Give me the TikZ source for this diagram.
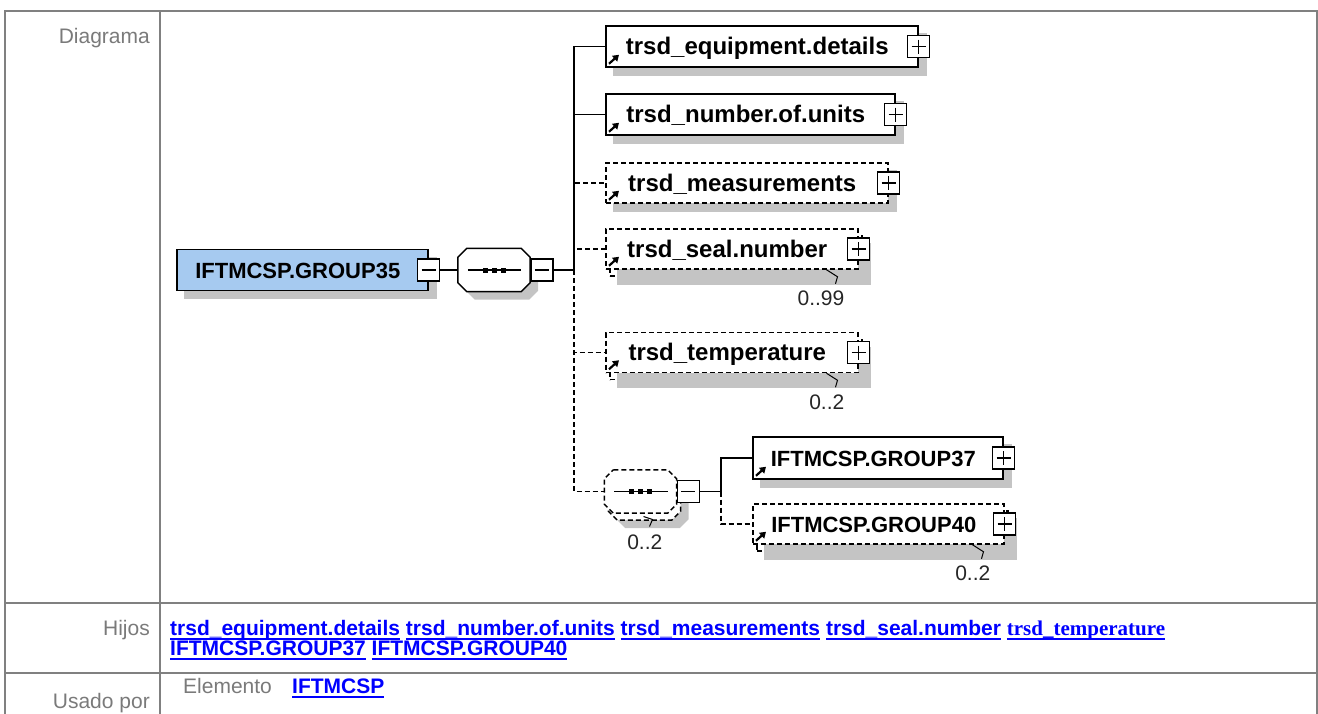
\documentclass[tikz,border=0pt]{standalone}
\usepackage{fontspec}
\setmainfont{Liberation Sans}
\newfontfamily\timesfont{Liberation Serif}
\usetikzlibrary{arrows.meta,backgrounds,positioning}

\definecolor{tablegray}{HTML}{808080}
\definecolor{labelgray}{HTML}{7A7A7A}
\definecolor{linkblue}{HTML}{0000FF}
\definecolor{groupblue}{HTML}{A6CAF0}
\definecolor{shadegray}{HTML}{C4C4C4}

% underlined link text
\newcommand{\hlink}[1]{\setbox0=\hbox{#1}\rlap{\rule[-5pt]{\wd0}{2pt}}\box0\relax}
% octagon round a seqbox node
\newcommand{\octpath}[1]{([xshift=9pt]#1.north west) -- ([xshift=-9pt]#1.north east) -- ([yshift=-9pt]#1.north east) -- ([yshift=9pt]#1.south east) -- ([xshift=-9pt]#1.south east) -- ([xshift=9pt]#1.south west) -- ([yshift=9pt]#1.south west) -- ([yshift=-9pt]#1.north west) -- cycle}
% sequence symbol
\newcommand{\seqmark}[1]{\draw[line width=1.4pt] ([xshift=10pt]#1.west) -- ([xshift=-9pt]#1.east);
  \foreach \dx in {-9,0,9} \fill ([xshift=\dx pt]#1.center) +(-2.5pt,-2.5pt) rectangle +(2.5pt,2.5pt);}
% reference arrow
\newcommand{\refmark}[1]{\draw[refarrow] ([xshift=4pt,yshift=4pt]#1.south west) -- ([xshift=14pt,yshift=13pt]#1.south west);}
% shadow of a box
\newcommand{\boxshade}[1]{\fill[shadegray] ([shift={(8,8)}]#1.north west) rectangle ([shift={(8,8)}]#1.south east);}

\tikzset{
  tabline/.style={draw=tablegray, line width=2pt},
  tablabel/.style={text=labelgray, font=\fontsize{21}{20}\selectfont, inner sep=0pt},
  linktext/.style={text=linkblue, font=\bfseries\fontsize{21}{20}\selectfont, inner sep=0pt},
  occ/.style={font=\fontsize{21}{21}\selectfont, inner sep=0pt, text=black!85},
  elem/.style={draw, line width=1.5pt, fill=white, inner sep=0pt, anchor=west,
    minimum height=41pt, font=\bfseries\fontsize{24}{24}\selectfont,
    text height=18pt, text depth=2pt,
    execute at begin node=\hspace*{18pt}, execute at end node=\hspace*{27pt}},
  grp/.style={elem, font=\bfseries\fontsize{22}{22}\selectfont, text height=16pt, text depth=0pt},
  opt/.style={dash pattern=on 5pt off 3pt},
  backbox/.style={draw, line width=1.5pt, fill=white, opt, inner sep=0pt},
  seqbox/.style={rectangle, minimum width=72pt, minimum height=43pt, inner sep=0pt},
  pm/.style={draw, fill=white, line width=1.3pt, minimum size=22pt, inner sep=0pt},
  plus/.style={pm, path picture={\draw[line width=1.3pt]
    ([xshift=4pt]path picture bounding box.west) -- ([xshift=-4pt]path picture bounding box.east)
    ([yshift=-4pt]path picture bounding box.north) -- ([yshift=4pt]path picture bounding box.south);}},
  minus/.style={pm, path picture={\draw[line width=1.3pt]
    ([xshift=4pt]path picture bounding box.west) -- ([xshift=-4pt]path picture bounding box.east);}},
  tree/.style={line width=1.5pt},
  refarrow/.style={line width=2.2pt, -{Triangle[length=6pt,width=7.5pt]}},
  tick/.style={line width=1pt}
}

\begin{document}
\begin{tikzpicture}[x=1pt,y=-1pt]
\useasboundingbox (0,0) rectangle (1318,713);

% table
\draw[tabline] (5,720) -- (5,11) -- (1317,11) -- (1317,720);
\draw[tabline] (160,11) -- (160,720);
\draw[tabline] (5,603) -- (1317,603);
\draw[tabline] (5,673) -- (1317,673);

\node[tablabel, anchor=base east] (diag) at (150,43) {Diagrama};
\node[tablabel, anchor=base east] (kids) at (150,635) {Hijos};
\node[tablabel, anchor=base east] (usedby) at (150,708) {Usado por};
\node[linktext, anchor=base west] (kids1) at (170,635) {\hlink{trsd\_equipment.details} \hlink{trsd\_number.of.units} \hlink{trsd\_measurements} \hlink{trsd\_seal.number} \hlink{\timesfont trsd\_temperature}};
\node[linktext, anchor=base west] (kids2) at (170,655) {\hlink{IFTMCSP.GROUP37} \hlink{IFTMCSP.GROUP40}};
\node[tablabel, anchor=base west] (kind) at (183,693) {Elemento};
\node[linktext, anchor=base west] (user) at (292,693) {\hlink{IFTMCSP}};

% main group and sequence
\node[grp, fill=groupblue, minimum width=251pt] (g35) at (176,270) {IFTMCSP.GROUP35};
\node[minus] (g35m) at (g35.east) {};
\node[seqbox] (seq1) at (494,270) {};
\draw[tree, fill=white] \octpath{seq1};
\seqmark{seq1}
\node[minus, anchor=west] (seq1m) at (seq1.east) {};
\coordinate (trunk) at (574,270);

% children
\node[elem, minimum width=312pt] (equip) at (605,46.5) {trsd\_equipment.details};
\node[elem, minimum width=289pt] (units) at (605,114.5) {trsd\_number.of.units};
\node[elem, opt, minimum width=282pt, minimum height=40pt] (meas) at (605,183) {trsd\_measurements};
\node[elem, opt, minimum width=252pt, minimum height=40pt] (seal) at (605,249) {trsd\_seal.number};
\node[elem, opt, minimum width=252pt, minimum height=40pt] (temp) at (605,352.5) {trsd\_temperature};
\node[seqbox] (seq2) at (640.5,491.5) {};
\draw[tree, opt, fill=white] \octpath{seq2};
\seqmark{seq2}
\node[minus, anchor=west] (seq2m) at (seq2.east) {};
\coordinate (subtrunk) at (721,491.5);
\node[elem, minimum width=250pt, minimum height=42pt, font=\bfseries\fontsize{22}{22}\selectfont, text height=16pt, text depth=0pt] (g37) at (752,458) {IFTMCSP.GROUP37};
\node[elem, opt, minimum width=251pt, minimum height=40pt, font=\bfseries\fontsize{22}{22}\selectfont, text height=16pt, text depth=0pt] (g40) at (752,524) {IFTMCSP.GROUP40};

\foreach \n in {equip,units,meas,seal,temp,g37,g40} {
  \node[plus] (\n p) at (\n.east) {};
  \refmark{\n}
}

% shadows and stacked copies
\begin{scope}[on background layer]
  \boxshade{g35}
  \node[seqbox] (seq1shade) at ([shift={(8,8)}]seq1.center) {};
  \fill[shadegray] \octpath{seq1shade};
  \boxshade{equip}
  \boxshade{units}
  \boxshade{meas}
  \boxshade{g37}
  \node[backbox, minimum width=252pt, minimum height=40pt] (sealback) at ([shift={(4,7)}]seal.center) {};
  \node[backbox, minimum width=252pt, minimum height=40pt] (tempback) at ([shift={(4,7)}]temp.center) {};
  \node[backbox, minimum width=251pt, minimum height=40pt] (g40back) at ([shift={(4,7)}]g40.center) {};
  \node[seqbox] (seq2back) at ([shift={(4,7)}]seq2.center) {};
  \node[seqbox] (seq2shade) at ([shift={(12,15)}]seq2.center) {};
  \fill[shadegray] \octpath{seq2shade};
  \draw[tree, opt, fill=white] \octpath{seq2back};
\end{scope}
\begin{scope}[on background layer]
  \boxshade{sealback}
  \boxshade{tempback}
  \boxshade{g40back}
\end{scope}

% connectors
\draw[tree] (g35m) -- (seq1);
\draw[tree] (seq1m) -- (trunk);
\draw[tree] (trunk) |- (equip.west);
\draw[tree] (trunk) |- (units.west);
\draw[tree, opt] (trunk) |- (meas.west);
\draw[tree, opt] (trunk) |- (seal.west);
\draw[tree, opt] (trunk) |- (temp.west);
\draw[tree, opt] (trunk) |- (seq2.west);
\draw[tree] (seq2m) -- (subtrunk) |- (g37.west);
\draw[tree, opt] (subtrunk) |- (g40.west);

% occurrences
\foreach \n/\t in {sealback/0..99, tempback/0..2, g40back/0..2} {
  \draw[tick] ([shift={(-36,-7)}]\n.south east) -- ([shift={(-25,0)}]\n.south east) -- ([shift={(-27,7)}]\n.south east);
  \node[occ, anchor=north east] (\n occ) at ([shift={(-18,14)}]\n.south east) {\t};
}
\draw[tick] ([shift={(-1,18)}]seq2back.center) -- ([shift={(8,21)}]seq2back.center) -- ([shift={(5,28)}]seq2back.center);
\node[occ, anchor=north east] (seq2occ) at ([shift={(18,36)}]seq2back.center) {0..2};
\end{tikzpicture}
\end{document}
